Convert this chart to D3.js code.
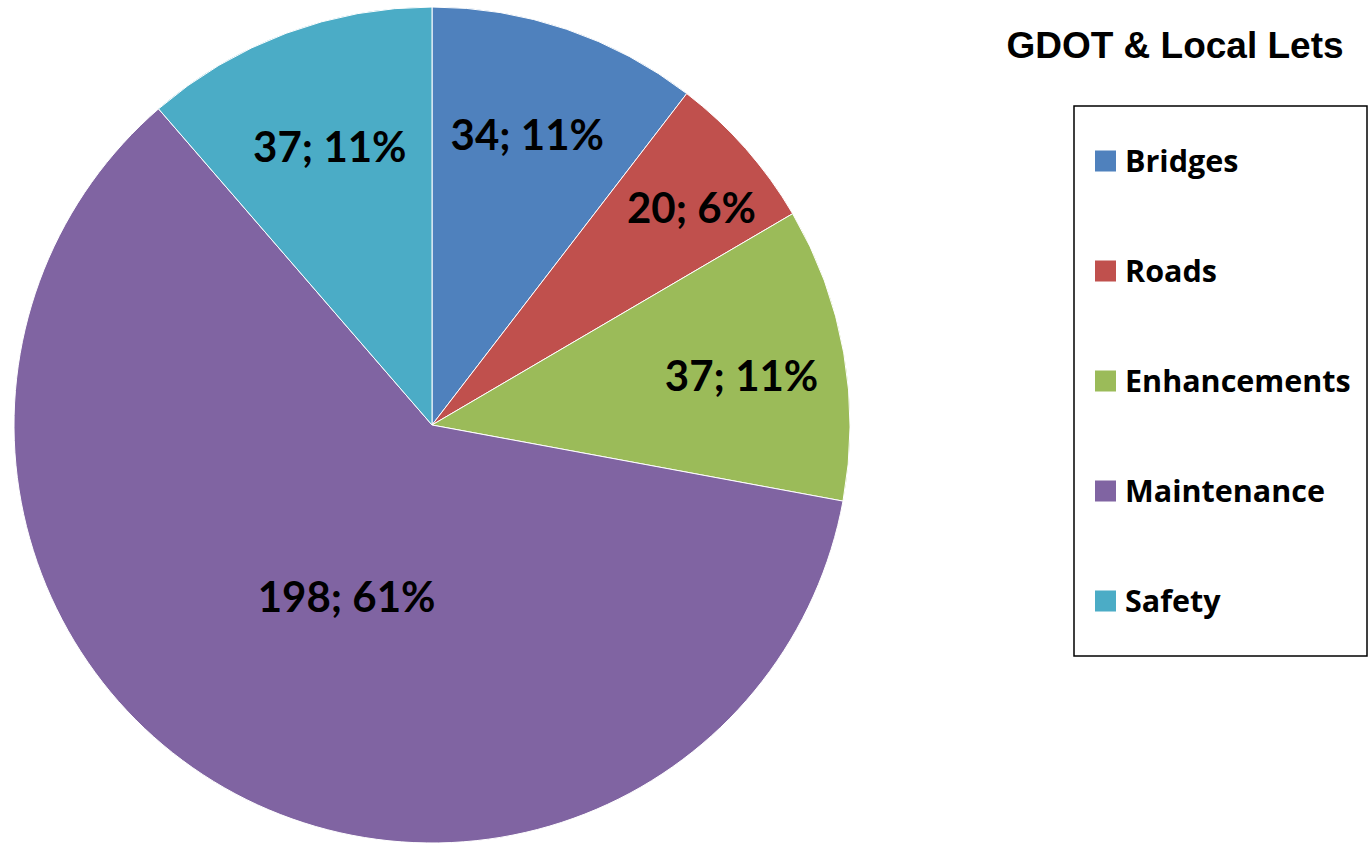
<!DOCTYPE html>
<html>
<head>
<meta charset="utf-8">
<script src="https://cdn.jsdelivr.net/npm/d3@7"></script>
<style>
  html, body { margin: 0; padding: 0; background: #fff; }
  svg { display: block; }
</style>
</head>
<body>
<svg id="chart" width="1371" height="844"></svg>
<script>
const categories = ["Bridges", "Roads", "Enhancements", "Maintenance", "Safety"];
const values = [34, 20, 37, 198, 37];
const percentLabels = ["11%", "6%", "11%", "61%", "11%"];
const title = "GDOT & Local Lets";

const colors = ["#4F81BD", "#C0504D", "#9BBB59", "#8064A2", "#4BACC6"];
// label distance from centre as fraction of radius (layout only)
const labelRadius = [0.73, 0.81, 0.75, 0.46, 0.71];
const labelAngleShift = [-0.01, 0.025, 0.015, -0.06, 0.005];

const svg = d3.select("#chart");
const cx = 432, cy = 425, R = 418;

const pie = d3.pie().sort(null).value(d => d)(values);
const arc = d3.arc().innerRadius(0).outerRadius(R);

const g = svg.append("g").attr("transform", `translate(${cx},${cy})`);
g.selectAll("path.slice")
  .data(pie)
  .join("path")
  .attr("class", "slice")
  .attr("d", arc)
  .attr("fill", (d, i) => colors[i])
  .attr("stroke", "#fff")
  .attr("stroke-width", 1);

g.selectAll("text.lbl")
  .data(pie)
  .join("text")
  .attr("class", "lbl")
  .attr("x", (d, i) => {
    const a = (d.startAngle + d.endAngle) / 2 + labelAngleShift[i];
    return Math.sin(a) * R * labelRadius[i];
  })
  .attr("y", (d, i) => {
    const a = (d.startAngle + d.endAngle) / 2 + labelAngleShift[i];
    return -Math.cos(a) * R * labelRadius[i];
  })
  .attr("dy", "0.36em")
  .attr("text-anchor", "middle")
  .attr("font-family", "Lato, 'Open Sans', sans-serif")
  .attr("font-weight", "bold")
  .attr("font-size", 42)
  .attr("fill", "#000")
  .text((d, i) => `${values[i]}; ${percentLabels[i]}`);

// Title
svg.append("text")
  .attr("x", 1175)
  .attr("y", 58)
  .attr("text-anchor", "middle")
  .attr("font-family", "'Liberation Sans', Arial, sans-serif")
  .attr("font-weight", "bold")
  .attr("font-size", 37)
  .attr("fill", "#000")
  .text(title);

// Legend
const legend = svg.append("g");
legend.append("rect")
  .attr("x", 1074).attr("y", 106)
  .attr("width", 293).attr("height", 550)
  .attr("fill", "#fff")
  .attr("stroke", "#000")
  .attr("stroke-width", 1.5);

const ly = d3.scalePoint().domain(categories).range([161, 601]);
const items = legend.selectAll("g.item")
  .data(categories)
  .join("g")
  .attr("class", "item")
  .attr("transform", d => `translate(0,${ly(d)})`);
items.append("rect")
  .attr("x", 1095).attr("y", -10.5)
  .attr("width", 21).attr("height", 21)
  .attr("fill", (d, i) => colors[i]);
items.append("text")
  .attr("x", 1125)
  .attr("y", 0)
  .attr("dy", "0.36em")
  .attr("font-family", "'Open Sans', Lato, sans-serif")
  .attr("font-weight", "bold")
  .attr("font-size", 30.5)
  .attr("fill", "#000")
  .text(d => d);
</script>
</body>
</html>
